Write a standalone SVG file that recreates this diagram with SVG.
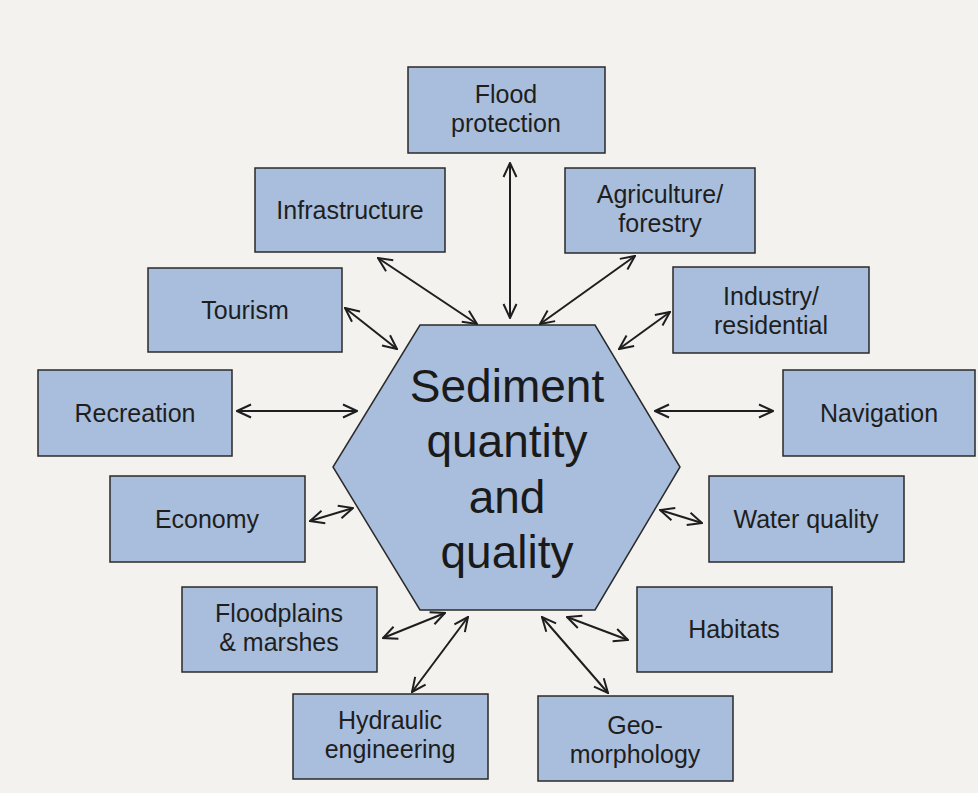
<svg xmlns="http://www.w3.org/2000/svg" width="978" height="793" viewBox="0 0 978 793">
<style>
.box{fill:#a9bedc;stroke:#2a2a2a;stroke-width:1.5}
.t{font-family:"Liberation Sans",Arial,sans-serif;font-size:25px;fill:#1e1e1e;text-anchor:middle}
.big{font-family:"Liberation Sans",Arial,sans-serif;font-size:46px;fill:#1a1a1a;text-anchor:middle}
.c{stroke:#1e1e1e;stroke-width:2;fill:none;marker-start:url(#ah);marker-end:url(#ah)}
</style>
<defs>
<marker id="ah" viewBox="0 0 16 16" refX="15" refY="8" markerWidth="16" markerHeight="16" markerUnits="userSpaceOnUse" orient="auto-start-reverse">
<path d="M1,1.5 L15,8 L1,14.5" fill="none" stroke="#1e1e1e" stroke-width="2"/>
</marker>
</defs>
<rect width="978" height="793" fill="#f4f2ef"/>
<g id="connectors">
<line class="c" x1="510" y1="163" x2="510" y2="318"/>
<line class="c" x1="378" y1="258" x2="477" y2="324"/>
<line class="c" x1="635" y1="256" x2="540" y2="324"/>
<line class="c" x1="345" y1="308" x2="397" y2="349"/>
<line class="c" x1="670" y1="312" x2="619" y2="349"/>
<line class="c" x1="237" y1="411" x2="357" y2="411"/>
<line class="c" x1="655" y1="411" x2="773" y2="411"/>
<line class="c" x1="310" y1="521" x2="353" y2="508"/>
<line class="c" x1="660" y1="510" x2="702" y2="523"/>
<line class="c" x1="383" y1="638" x2="445" y2="613"/>
<line class="c" x1="567" y1="617" x2="628" y2="640"/>
<line class="c" x1="542" y1="617" x2="608" y2="693"/>
<line class="c" x1="468" y1="617" x2="412" y2="692"/>
</g>
<g id="center">
<polygon class="box" points="420,325 595,325 680,467 595,610 420,610 333,467"/>
<text class="big" x="507" y="402">Sediment</text>
<text class="big" x="507" y="457">quantity</text>
<text class="big" x="507" y="513">and</text>
<text class="big" x="507" y="568">quality</text>
</g>
<g id="flood"><rect class="box" x="408" y="67" width="197" height="86"/><text class="t" x="506" y="103">Flood</text><text class="t" x="506" y="132">protection</text></g>
<g id="infrastructure"><rect class="box" x="255" y="168" width="190" height="84"/><text class="t" x="350" y="219">Infrastructure</text></g>
<g id="agriculture"><rect class="box" x="565" y="168" width="190" height="85"/><text class="t" x="660" y="203">Agriculture/</text><text class="t" x="660" y="232">forestry</text></g>
<g id="tourism"><rect class="box" x="148" y="268" width="194" height="84"/><text class="t" x="245" y="319">Tourism</text></g>
<g id="industry"><rect class="box" x="673" y="267" width="196" height="86"/><text class="t" x="771" y="305">Industry/</text><text class="t" x="771" y="334">residential</text></g>
<g id="recreation"><rect class="box" x="38" y="370" width="194" height="86"/><text class="t" x="135" y="422">Recreation</text></g>
<g id="navigation"><rect class="box" x="783" y="370" width="192" height="86"/><text class="t" x="879" y="422">Navigation</text></g>
<g id="economy"><rect class="box" x="110" y="476" width="195" height="86"/><text class="t" x="207" y="528">Economy</text></g>
<g id="water"><rect class="box" x="709" y="476" width="195" height="86"/><text class="t" x="806" y="528">Water quality</text></g>
<g id="floodplains"><rect class="box" x="182" y="587" width="195" height="85"/><text class="t" x="279" y="622">Floodplains</text><text class="t" x="279" y="651">&amp; marshes</text></g>
<g id="habitats"><rect class="box" x="637" y="587" width="195" height="85"/><text class="t" x="734" y="638">Habitats</text></g>
<g id="hydraulic"><rect class="box" x="293" y="694" width="195" height="85"/><text class="t" x="390" y="729">Hydraulic</text><text class="t" x="390" y="758">engineering</text></g>
<g id="geomorphology"><rect class="box" x="538" y="696" width="195" height="85"/><text class="t" x="635" y="734">Geo-</text><text class="t" x="635" y="763">morphology</text></g>
</svg>
